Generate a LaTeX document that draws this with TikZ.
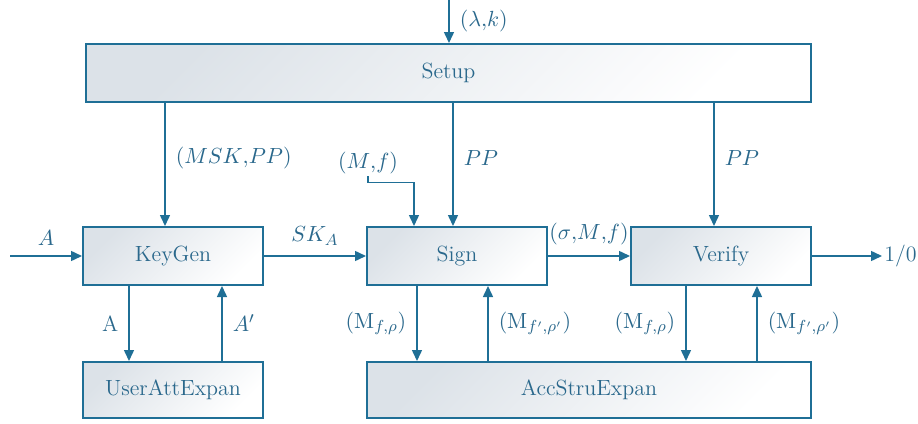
\documentclass[tikz,border=0pt]{standalone}
\usepackage{amsmath,amssymb}
\usepackage{tikz}
\usetikzlibrary{arrows.meta, positioning, calc}

\definecolor{flowblue}{RGB}{31,111,150}
\definecolor{labelblue}{RGB}{42,104,140}
\definecolor{boxgray}{RGB}{220,226,232}

\tikzset{
    block/.style={draw=flowblue, line width=1pt, top color=boxgray, bottom color=white,
        shading angle=45, text=labelblue, font=\fontsize{11}{13}\selectfont,
        minimum width=90pt, minimum height=29pt, inner sep=0pt},
    flow/.style={draw=flowblue, line width=0.75pt, -{Triangle[length=5.5pt,width=5pt]}},
    lbl/.style={text=labelblue, inner sep=1pt, font=\fontsize{11}{13}\selectfont},
}

\begin{document}
\begin{tikzpicture}[x=0.5pt, y=-0.5pt]
    \useasboundingbox (0,0) rectangle (918,424);
    % Blocks
    \node[block, minimum width=362.5pt] (setup) at (448.5,73) {Setup};
    \node[block] (keygen) at (173,256) {KeyGen};
    \node[block] (sign) at (457,256) {Sign};
    \node[block] (verify) at (721,256) {Verify};
    \node[block, minimum height=28pt] (userexp) at (173,390) {UserAttExpan};
    \node[block, minimum width=222pt, minimum height=28pt] (accexp) at (589,390) {AccStruExpan};
    % Inputs and outputs
    \coordinate (lamk) at (449,0);
    \coordinate (ain) at (10,256);
    \node[lbl, anchor=west] (result) at (882,256) {1/0};
    \node[lbl] (mf) at (368,163) {$(M{,}f)$};
    % Entry points on the blocks
    \coordinate (kgin) at ([xshift=-4pt]keygen.north);
    \coordinate (sgin) at ([xshift=-2pt]sign.north);
    \coordinate (mfin) at ([xshift=-21.5pt]sign.north);
    \coordinate (vfin) at ([xshift=-3.5pt]verify.north);
    \draw[flow] (lamk) -- (setup.north -| lamk) node[lbl, midway, right=4pt] {$(\lambda{,}k)$};
    \draw[flow] (setup.south -| kgin) -- (kgin) node[lbl, pos=0.45, right=4pt] {$(MSK{,}PP)$};
    \draw[flow] (setup.south -| sgin) -- (sgin) node[lbl, pos=0.45, right=4pt] {$PP$};
    \draw[flow] (setup.south -| vfin) -- (vfin) node[lbl, pos=0.45, right=4pt] {$PP$};
    \draw[flow] (mf.south) -- ++(0,6) -| (mfin);
    % Main chain
    \draw[flow] (ain) -- (keygen) node[lbl, midway, above=4pt] {$A$};
    \draw[flow] (keygen) -- (sign) node[lbl, midway, above=4pt] {$SK_A$};
    \draw[flow] (sign) -- (verify) node[lbl, midway, above=4pt] {$(\sigma{,}M{,}f)$};
    \draw[flow] (verify) -- (result);
    % Expansion loops
    \draw[flow] ([xshift=-22pt]keygen.south) -- ([xshift=-22pt]keygen.south |- userexp.north)
        node[lbl, midway, left=4pt] {A};
    \draw[flow] ([xshift=24.5pt]keygen.south |- userexp.north) -- ([xshift=24.5pt]keygen.south)
        node[lbl, midway, right=4pt] {$A'$};
    \draw[flow] ([xshift=-20pt]sign.south) -- ([xshift=-20pt]sign.south |- accexp.north)
        node[lbl, midway, left=4pt] {$(\mathrm{M}_{f,\rho})$};
    \draw[flow] ([xshift=15.5pt]sign.south |- accexp.north) -- ([xshift=15.5pt]sign.south)
        node[lbl, midway, right=4pt] {$(\mathrm{M}_{f',\rho'})$};
    \draw[flow] ([xshift=-17.5pt]verify.south) -- ([xshift=-17.5pt]verify.south |- accexp.north)
        node[lbl, midway, left=4pt] {$(\mathrm{M}_{f,\rho})$};
    \draw[flow] ([xshift=18pt]verify.south |- accexp.north) -- ([xshift=18pt]verify.south)
        node[lbl, midway, right=4pt] {$(\mathrm{M}_{f',\rho'})$};
\end{tikzpicture}
\end{document}
